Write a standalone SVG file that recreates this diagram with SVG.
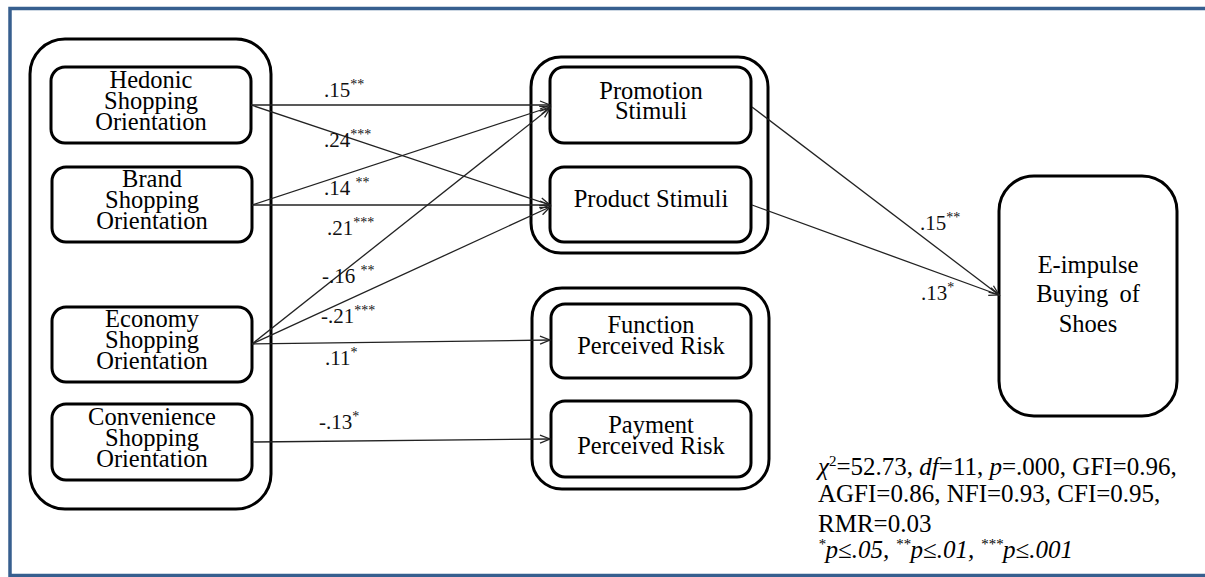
<svg xmlns="http://www.w3.org/2000/svg" width="1205" height="577" viewBox="0 0 1205 577">
<style>
.box{fill:none;stroke:#000;stroke-width:3}
.nt{font-size:24.5px;fill:#000;text-anchor:middle}
.lbl{font-size:21px;fill:#111}
.stat{font-size:25px;fill:#000}
.con{stroke:#222;stroke-width:1.3;fill:none;marker-end:url(#arr)}
</style>
<defs>
<marker id="arr" markerUnits="userSpaceOnUse" viewBox="-1 -1 13 10" refX="10" refY="4" markerWidth="13" markerHeight="10" orient="auto">
<path d="M0,0 L10,4 L0,8" fill="none" stroke="#222" stroke-width="1.3"/>
</marker>
</defs>
<rect width="1205" height="577" fill="#fff"/>
<path d="M1205,8.5 H10 V575.5 H1205" fill="none" stroke="#375f8f" stroke-width="3.5"/>

<g font-family="Liberation Serif, Times New Roman, serif">
<g id="group-orientations">
<rect class="box" x="30" y="39" width="241" height="470" rx="35"/>
</g>
<g id="hedonic">
<rect class="box" x="51" y="67" width="200" height="76" rx="14"/>
<text class="nt" x="151" y="88">Hedonic</text>
<text class="nt" x="151" y="109">Shopping</text>
<text class="nt" x="151" y="130">Orientation</text>
</g>
<g id="brand">
<rect class="box" x="52" y="167" width="200" height="75" rx="14"/>
<text class="nt" x="152" y="187">Brand</text>
<text class="nt" x="152" y="208">Shopping</text>
<text class="nt" x="152" y="229">Orientation</text>
</g>
<g id="economy">
<rect class="box" x="52" y="307" width="200" height="75" rx="14"/>
<text class="nt" x="152" y="327">Economy</text>
<text class="nt" x="152" y="348">Shopping</text>
<text class="nt" x="152" y="369">Orientation</text>
</g>
<g id="convenience">
<rect class="box" x="52" y="404" width="200" height="76" rx="14"/>
<text class="nt" x="152" y="425">Convenience</text>
<text class="nt" x="152" y="446">Shopping</text>
<text class="nt" x="152" y="467">Orientation</text>
</g>

<g id="group-stimuli">
<rect class="box" x="531" y="57" width="237" height="196" rx="30"/>
</g>
<g id="promotion">
<rect class="box" x="550" y="67" width="201" height="76" rx="14"/>
<text class="nt" x="651" y="99">Promotion</text>
<text class="nt" x="651" y="119">Stimuli</text>
</g>
<g id="product">
<rect class="box" x="550" y="167" width="201" height="75" rx="14"/>
<text class="nt" x="651" y="207">Product Stimuli</text>
</g>

<g id="group-risk">
<rect class="box" x="532" y="288" width="237" height="201" rx="30"/>
</g>
<g id="function">
<rect class="box" x="551" y="304" width="200" height="74" rx="14"/>
<text class="nt" x="651" y="333">Function</text>
<text class="nt" x="651" y="354">Perceived Risk</text>
</g>
<g id="payment">
<rect class="box" x="551" y="401" width="200" height="76" rx="14"/>
<text class="nt" x="651" y="433">Payment</text>
<text class="nt" x="651" y="454">Perceived Risk</text>
</g>

<g id="eimpulse">
<rect class="box" x="999" y="176" width="178" height="240" rx="35"/>
<text class="nt" x="1088" y="273" font-size="25">E-impulse</text>
<text class="nt" x="1088" y="302" font-size="25" word-spacing="5">Buying of</text>
<text class="nt" x="1088" y="332" font-size="25">Shoes</text>
</g>

<g id="connectors">
<line class="con" x1="251" y1="105" x2="550" y2="105"/>
<line class="con" x1="251" y1="105" x2="550" y2="205"/>
<line class="con" x1="252" y1="205" x2="550" y2="107"/>
<line class="con" x1="252" y1="205" x2="550" y2="205"/>
<line class="con" x1="252" y1="344" x2="550" y2="108"/>
<line class="con" x1="252" y1="344" x2="550" y2="207"/>
<line class="con" x1="252" y1="344" x2="550" y2="340"/>
<line class="con" x1="252" y1="442" x2="550" y2="439"/>
<line class="con" x1="752" y1="107" x2="999" y2="295"/>
<line class="con" x1="752" y1="205" x2="999" y2="295"/>
</g>

<g id="labels">
<text class="lbl" x="324" y="97">.15<tspan font-size="14" dy="-8">**</tspan></text>
<text class="lbl" x="324" y="147">.24<tspan font-size="14" dy="-8">***</tspan></text>
<text class="lbl" x="324" y="195">.14 <tspan font-size="14" dy="-8">**</tspan></text>
<text class="lbl" x="327" y="235">.21<tspan font-size="14" dy="-8">***</tspan></text>
<text class="lbl" x="322" y="283">-.16 <tspan font-size="14" dy="-8">**</tspan></text>
<text class="lbl" x="321" y="323">-.21<tspan font-size="14" dy="-8">***</tspan></text>
<text class="lbl" x="325" y="365">.11<tspan font-size="14" dy="-8">*</tspan></text>
<text class="lbl" x="319" y="429">-.13<tspan font-size="14" dy="-8">*</tspan></text>
<text class="lbl" x="920" y="230">.15<tspan font-size="14" dy="-8">**</tspan></text>
<text class="lbl" x="921" y="300">.13<tspan font-size="14" dy="-8">*</tspan></text>
</g>

<g id="statistics">
<text class="stat" x="818" y="475"><tspan font-style="italic">χ</tspan><tspan font-size="15" dy="-9">2</tspan><tspan dy="9">=52.73, </tspan><tspan font-style="italic">df</tspan>=11, <tspan font-style="italic">p</tspan>=.000, GFI=0.96,</text>
<text class="stat" x="818" y="502">AGFI=0.86, NFI=0.93, CFI=0.95,</text>
<text class="stat" x="818" y="532">RMR=0.03</text>
<text class="stat" x="818" y="558" font-style="italic"><tspan font-size="15" dy="-9">*</tspan><tspan dy="9">p≤.05, </tspan><tspan font-size="15" dy="-9">**</tspan><tspan dy="9">p≤.01, </tspan><tspan font-size="15" dy="-9">***</tspan><tspan dy="9">p≤.001</tspan></text>
</g>
</g>
</svg>
